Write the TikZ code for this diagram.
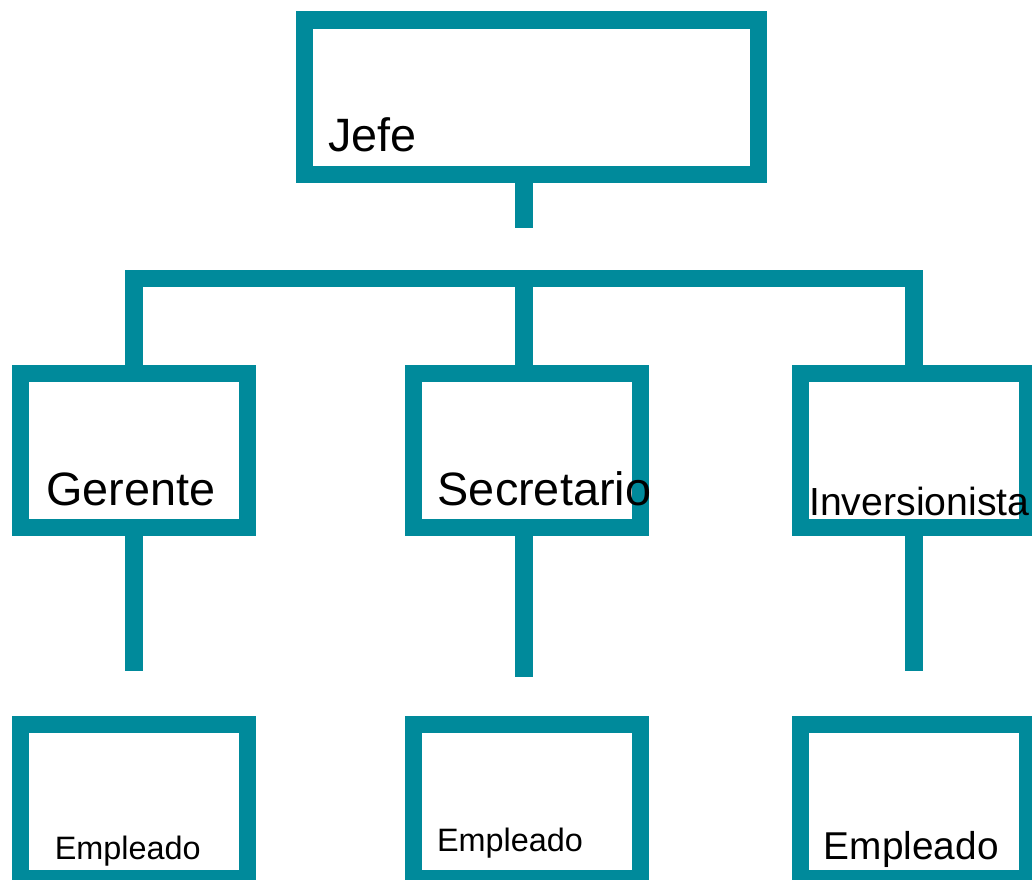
\documentclass[tikz,border=0pt]{standalone}
\usepackage{fontspec}
\setmainfont{Liberation Sans}
\definecolor{azulverde}{RGB}{0,138,155}

\begin{document}
\begin{tikzpicture}[x=0.75pt,y=-0.75pt]
    \tikzstyle{cargo}=[draw=azulverde, line width=13pt, shape=rectangle, minimum width=170.4pt, minimum height=115.4pt, inner sep=0pt, outer sep=0pt]
    \tikzstyle{conector}=[draw=azulverde, line width=13pt]
    \tikzstyle{etiqueta}=[anchor=base west, inner sep=0pt, font=\fontsize{35.1}{40}\selectfont]
    \useasboundingbox (0,0) rectangle (1032,879);
    \node[cargo, minimum width=340.4pt, minimum height=115.9pt] (jefe) at (531.5, 97.3){};
    \node[cargo] (gerente) at (134, 450.4){};
    \node[cargo] (secretario) at (527, 450.4){};
    \node[cargo] (inversionista) at (914, 450.4){};
    \node[cargo] (emp1) at (134, 801.4){};
    \node[cargo] (emp2) at (527, 801.4){};
    \node[cargo] (emp3) at (914, 801.4){};
    \node[etiqueta] (tjefe) at (328, 151.7){Jefe};
    \node[etiqueta] (tgerente) at (45.8, 505.7){Gerente};
    \node[etiqueta] (tsecretario) at (437.5, 505.7){Secretario};
    \node[etiqueta, font=\fontsize{29.4}{34}\selectfont] (tinversionista) at (809, 515){Inversionista};
    \node[etiqueta, font=\fontsize{24.3}{28}\selectfont] (temp1) at (54.5, 859){Empleado};
    \node[etiqueta, font=\fontsize{24.3}{28}\selectfont] (temp2) at (436.8, 851.7){Empleado};
    \node[etiqueta, font=\fontsize{29.1}{34}\selectfont] (temp3) at (823.7, 859){Empleado};
    \coordinate (barra) at (524, 278.7);
    \coordinate (finjefe) at (524, 227.7);
    \coordinate (fingerente) at (134, 671.3);
    \coordinate (finsecretario) at (524, 677);
    \coordinate (fininversionista) at (914, 671.3);
    \draw[conector] (barra |- jefe.south) -- (finjefe);
    \draw[conector] (gerente.north) |- (barra) -| (inversionista.north);
    \draw[conector] (barra |- secretario.north) -- (barra);
    \draw[conector] (gerente.south) -- (fingerente);
    \draw[conector] (finsecretario |- secretario.south) -- (finsecretario);
    \draw[conector] (inversionista.south) -- (fininversionista);
\end{tikzpicture}
\end{document}
